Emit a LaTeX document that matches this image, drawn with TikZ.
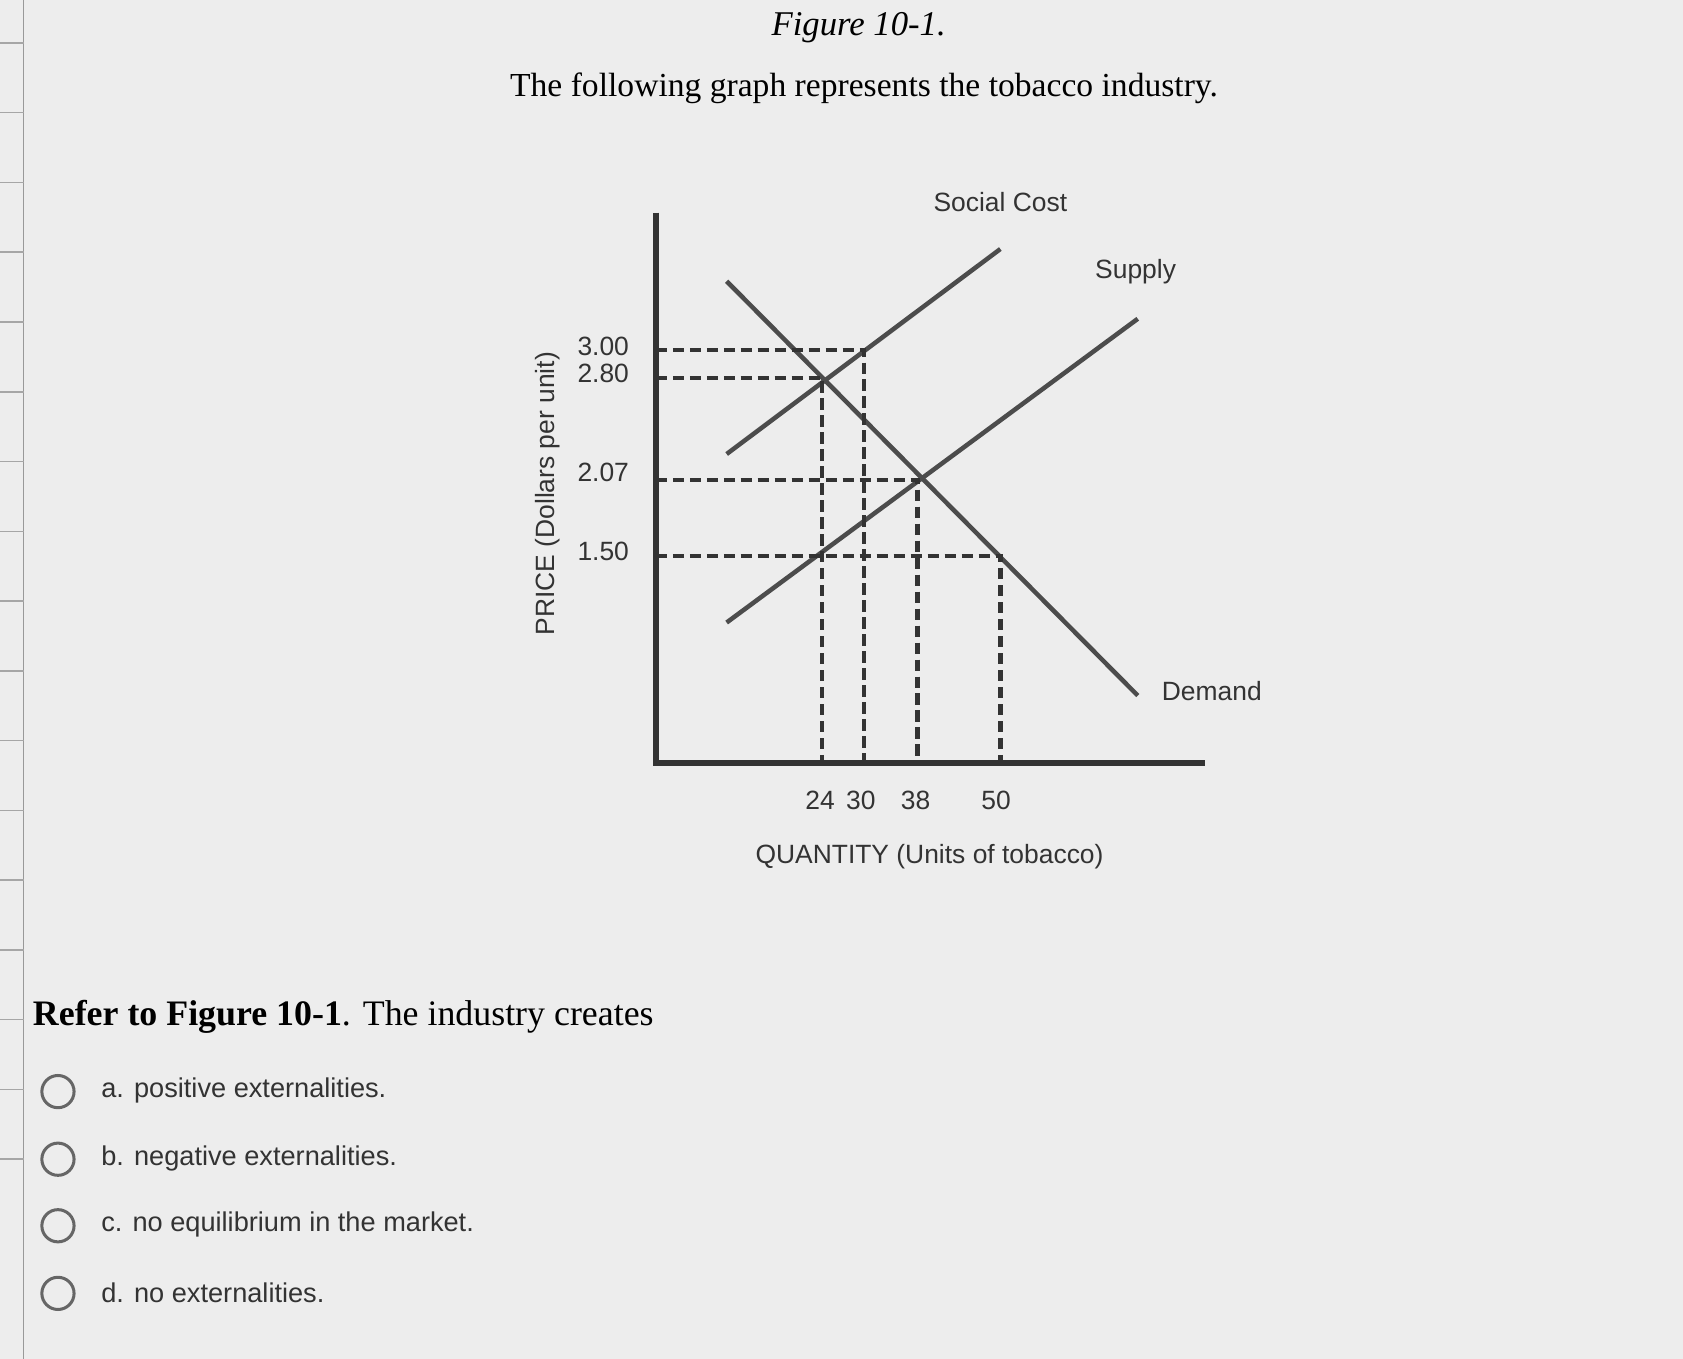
\documentclass[tikz,border=0pt]{standalone}
\usepackage{fontspec}
\setmainfont{Liberation Serif}
\setsansfont{Liberation Sans}
\begin{document}
\begin{tikzpicture}[x=0.01cm,y=-0.01cm,
 curve/.style={draw=black!70,line width=1.2pt},
 axis/.style={draw=black!80,line width=1.5pt},
 dashline/.style={draw=black!80,line width=1.2pt,dash pattern=on 3pt off 1.5pt},
 lab/.style={font=\sffamily\fontsize{7}{8}\selectfont,text=black!80},
 opt/.style={font=\sffamily\fontsize{7.2}{9}\selectfont,text=black!80,anchor=west},
 radio/.style={circle,draw=black!60,line width=0.8pt,minimum size=0.3cm,inner sep=0pt}]
\fill[black!7] (0,0) rectangle (1568,1266);
\useasboundingbox (0,0) rectangle (1568,1266);
% left edge
\draw[black!40] (22,0) -- (22,1266);
\foreach \y in {40,105,170,235,300,365,430,495,560,625,690,755,820,885,950,1015,1080}
  \draw[black!35] (0,\y) -- (22,\y);
\node[font=\itshape\fontsize{9.2}{11}\selectfont] (title) at (800,26) {Figure 10-1.};
\node[font=\fontsize{8.9}{11}\selectfont] (sub) at (805,82) {The following graph represents the tobacco industry.};
% axes
\coordinate (o) at (611,711);
\coordinate (ytop) at (611,198);
\coordinate (xend) at (1123,711);
\draw[axis] (ytop) -- (o) -- (xend);
% curves
\coordinate (sc1) at (677,423); \coordinate (sc2) at (932,232);
\coordinate (s1) at (677,580); \coordinate (s2) at (1060,297);
\coordinate (d1) at (677,262); \coordinate (d2) at (1060,648);
\draw[curve] (sc1) -- (sc2);
\draw[curve] (s1) -- (s2);
\draw[curve] (d1) -- (d2);
% dashed
\draw[dashline] (611,326) -- (805,326) -- (805,711);
\draw[dashline] (611,352) -- (766,352) -- (766,711);
\draw[dashline] (611,447) -- (855,447) -- (855,711);
\draw[dashline] (611,518) -- (932,518) -- (932,711);
% labels
\node[lab] (p300) at (562,323) {3.00};
\node[lab] (p280) at (562,348) {2.80};
\node[lab] (p207) at (562,440) {2.07};
\node[lab] (p150) at (562,514) {1.50};
\node[lab] (q24) at (764,746) {24};
\node[lab] (q30) at (802,746) {30};
\node[lab] (q38) at (853,746) {38};
\node[lab] (q50) at (928,746) {50};
\node[lab] (qlab) at (866,798) {QUANTITY (Units of tobacco)};
\node[lab,rotate=90] (plab) at (510,460) {PRICE (Dollars per unit)};
\node[lab] (sclab) at (932,188) {Social Cost};
\node[lab] (slab) at (1058,253) {Supply};
\node[lab] (dlab) at (1129,644) {Demand};
% question
\node[anchor=west,inner sep=0pt,font=\fontsize{9.5}{11}\selectfont] (q) at (30,947) {\textbf{Refer to Figure 10-1}. The industry creates};
\node[radio] (ra) at (54,1017) {}; \node[opt] (ta) at (82,1016) {a. positive externalities.};
\node[radio] (rb) at (54,1080) {}; \node[opt] (tb) at (82,1079) {b. negative externalities.};
\node[radio] (rc) at (54,1142) {}; \node[opt] (tc) at (82,1141) {c. no equilibrium in the market.};
\node[radio] (rd) at (54,1205) {}; \node[opt] (td) at (82,1204) {d. no externalities.};
\end{tikzpicture}
\end{document}
